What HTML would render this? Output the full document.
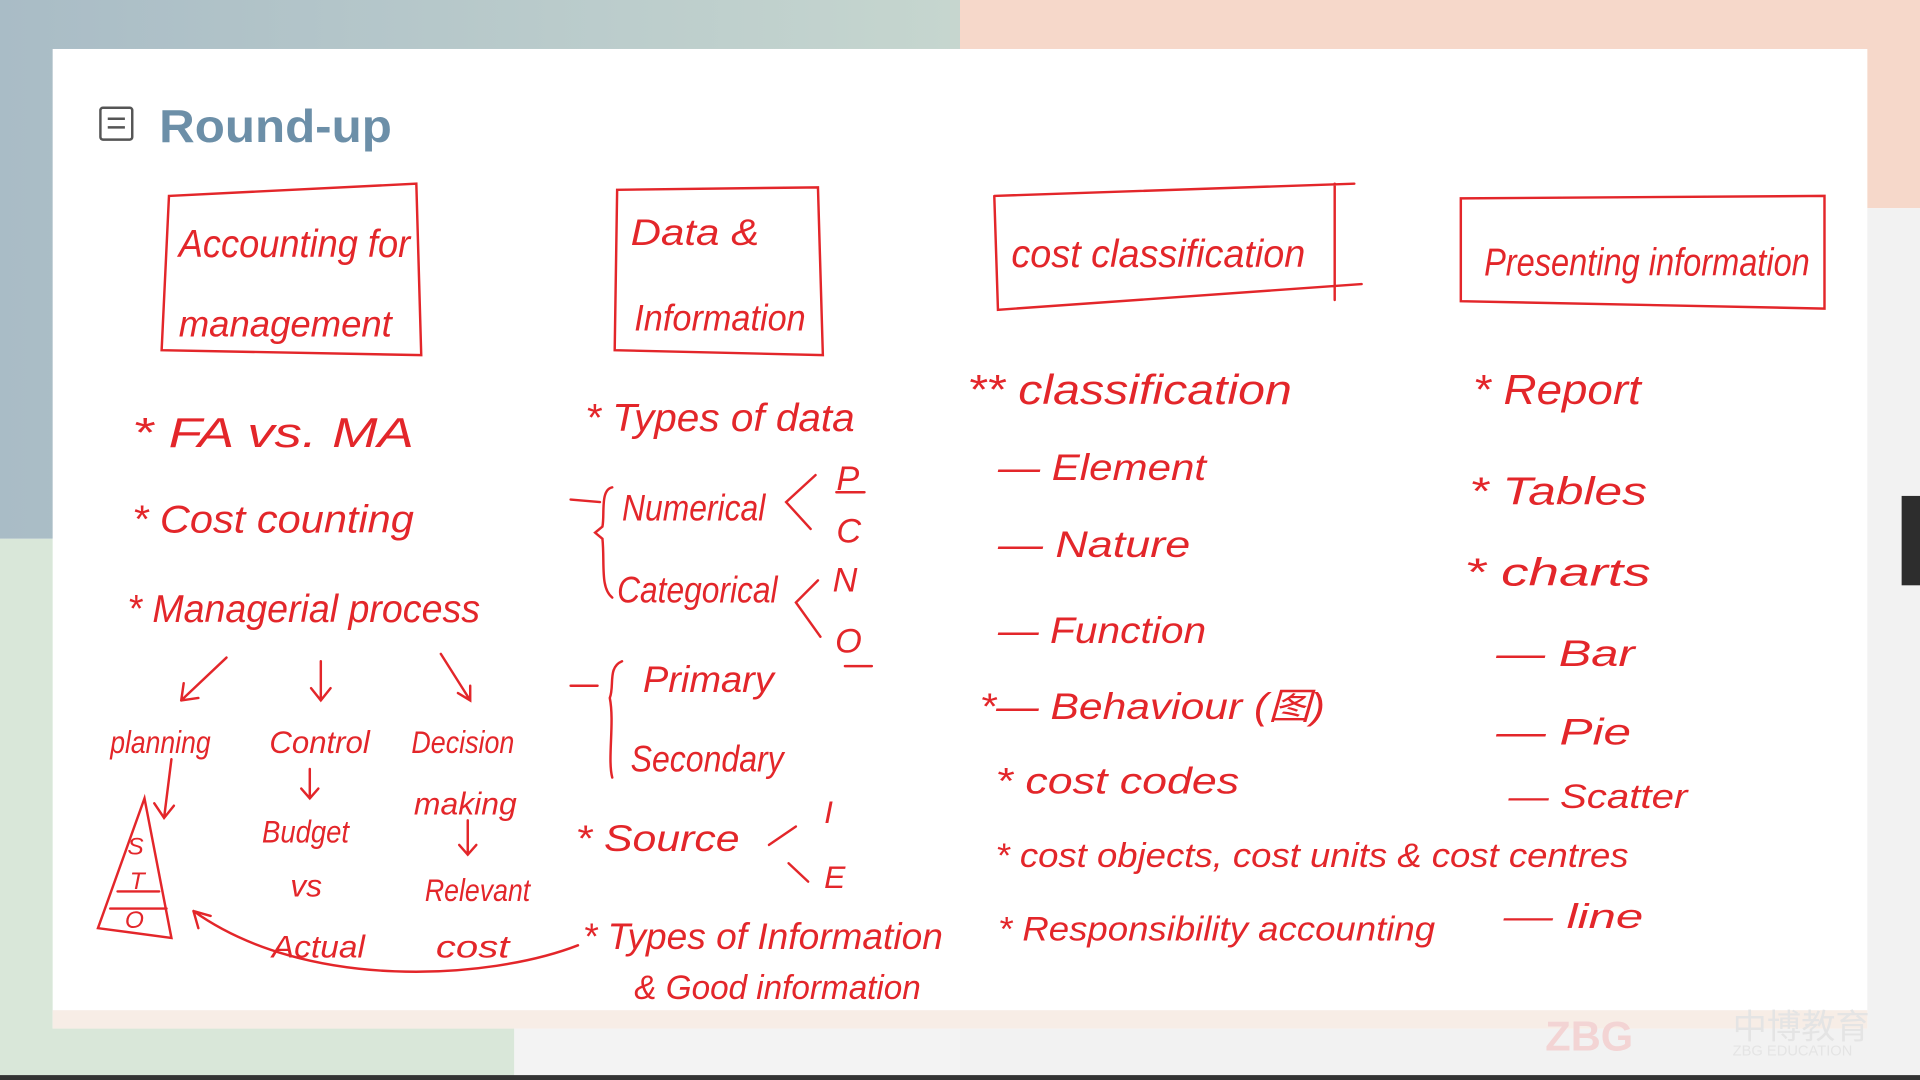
<!DOCTYPE html>
<html><head><meta charset="utf-8"><style>
html,body{margin:0;padding:0;width:1920px;height:1080px;overflow:hidden;background:#fff}
svg{display:block}
.h text{font-family:"Liberation Sans","Noto Sans CJK SC",sans-serif;font-style:italic;fill:#e3262a;font-weight:normal}
.l{stroke:#e3262a;stroke-width:2;fill:none;stroke-linecap:round}
</style></head><body>
<svg width="1920" height="1080" viewBox="0 0 1568 882" preserveAspectRatio="none" xmlns="http://www.w3.org/2000/svg">
<defs>
<linearGradient id="g1" x1="0" y1="0" x2="1" y2="0"><stop offset="0" stop-color="#a9bcc6"/><stop offset="1" stop-color="#c6d6cf"/></linearGradient>
</defs>
<rect x="0" y="0" width="784" height="440" fill="url(#g1)"/>
<rect x="784" y="0" width="784" height="170" fill="#f6d8ca"/>
<rect x="784" y="170" width="784" height="712" fill="#f2f2f2"/>
<rect x="0" y="440" width="420" height="442" fill="#d9e7d9"/>
<rect x="420" y="440" width="364" height="442" fill="#f3f3f3"/>
<rect x="43" y="40" width="1482" height="800" fill="#fff"/>
<rect x="43" y="825" width="1482" height="15" fill="#f7ede6"/>
<rect x="1553" y="405" width="15" height="73" fill="#2d2d2d"/>
<rect x="0" y="878" width="1568" height="4" fill="#333"/>
<rect x="82" y="88" width="26" height="26" fill="none" stroke="#555" stroke-width="2" rx="2"/>
<line x1="88" y1="97" x2="102" y2="97" stroke="#555" stroke-width="2"/>
<line x1="88" y1="104" x2="102" y2="104" stroke="#555" stroke-width="2"/>
<text x="130" y="116" font-family="Liberation Sans,sans-serif" font-weight="bold" font-size="38" fill="#6c8fa8" textLength="190" lengthAdjust="spacingAndGlyphs">Round-up</text>
<path class="l" d="M138 160 L340 150 L344 290 L132 286 Z"/>
<path class="l" d="M504 155 L668 153 L672 290 L502 286 Z"/>
<path class="l" d="M812 160 L1106 150 M812 160 L815 253 L1112 232 M1090 150 L1090 245"/>
<path class="l" d="M1193 162 L1490 160 L1490 252 L1193 246 Z"/>
<g class="h">
<text x="146" y="210" font-size="32" textLength="189" lengthAdjust="spacingAndGlyphs">Accounting for</text>
<text x="146" y="275" font-size="30" textLength="174" lengthAdjust="spacingAndGlyphs">management</text>
<text x="515" y="200" font-size="30" textLength="105" lengthAdjust="spacingAndGlyphs">Data &amp;</text>
<text x="518" y="270" font-size="30" textLength="140" lengthAdjust="spacingAndGlyphs">Information</text>
<text x="826" y="218" font-size="32" textLength="240" lengthAdjust="spacingAndGlyphs">cost classification</text>
<text x="1212" y="225" font-size="32" textLength="266" lengthAdjust="spacingAndGlyphs">Presenting information</text>

<text x="108" y="365" font-size="34" textLength="230" lengthAdjust="spacingAndGlyphs">*  FA  vs. MA</text>
<text x="108" y="435" font-size="32" textLength="230" lengthAdjust="spacingAndGlyphs">*  Cost counting</text>
<text x="104" y="508" font-size="32" textLength="288" lengthAdjust="spacingAndGlyphs">*  Managerial process</text>
<text x="90" y="615" font-size="26" textLength="82" lengthAdjust="spacingAndGlyphs">planning</text>
<text x="220" y="615" font-size="26" textLength="82" lengthAdjust="spacingAndGlyphs">Control</text>
<text x="336" y="615" font-size="26" textLength="84" lengthAdjust="spacingAndGlyphs">Decision</text>
<text x="338" y="665" font-size="26" textLength="84" lengthAdjust="spacingAndGlyphs">making</text>
<text x="214" y="688" font-size="26" textLength="71" lengthAdjust="spacingAndGlyphs">Budget</text>
<text x="237" y="732" font-size="26">vs</text>
<text x="222" y="782" font-size="26" textLength="76" lengthAdjust="spacingAndGlyphs">Actual</text>
<text x="347" y="736" font-size="26" textLength="86" lengthAdjust="spacingAndGlyphs">Relevant</text>
<text x="356" y="782" font-size="26" textLength="60" lengthAdjust="spacingAndGlyphs">cost</text>
<text x="104" y="698" font-size="20">S</text>
<text x="106" y="726" font-size="20">T</text>
<text x="102" y="758" font-size="20">O</text>

<text x="478" y="352" font-size="32" textLength="220" lengthAdjust="spacingAndGlyphs">* Types of data</text>
<text x="508" y="425" font-size="30" textLength="117" lengthAdjust="spacingAndGlyphs">Numerical</text>
<text x="504" y="492" font-size="30" textLength="131" lengthAdjust="spacingAndGlyphs">Categorical</text>
<text x="683" y="400" font-size="28">P</text>
<text x="683" y="443" font-size="28">C</text>
<text x="680" y="483" font-size="28">N</text>
<text x="682" y="533" font-size="28">O</text>
<text x="525" y="565" font-size="30" textLength="107" lengthAdjust="spacingAndGlyphs">Primary</text>
<text x="515" y="630" font-size="30" textLength="125" lengthAdjust="spacingAndGlyphs">Secondary</text>
<text x="470" y="695" font-size="30" textLength="134" lengthAdjust="spacingAndGlyphs">*   Source</text>
<text x="673" y="672" font-size="26">I</text>
<text x="673" y="725" font-size="26">E</text>
<text x="476" y="775" font-size="30" textLength="294" lengthAdjust="spacingAndGlyphs">*  Types of Information</text>
<text x="518" y="816" font-size="28" textLength="234" lengthAdjust="spacingAndGlyphs">&amp;   Good information</text>

<text x="790" y="330" font-size="34" textLength="265" lengthAdjust="spacingAndGlyphs">** classification</text>
<text x="815" y="392" font-size="30" textLength="170" lengthAdjust="spacingAndGlyphs">—  Element</text>
<text x="815" y="455" font-size="30" textLength="157" lengthAdjust="spacingAndGlyphs">—  Nature</text>
<text x="815" y="525" font-size="30" textLength="170" lengthAdjust="spacingAndGlyphs">—  Function</text>
<text x="800" y="587" font-size="30" textLength="282" lengthAdjust="spacingAndGlyphs">*—  Behaviour (图)</text>
<text x="813" y="648" font-size="30" textLength="199" lengthAdjust="spacingAndGlyphs">*  cost codes</text>
<text x="813" y="708" font-size="28" textLength="517" lengthAdjust="spacingAndGlyphs">* cost objects, cost units &amp; cost centres</text>
<text x="815" y="768" font-size="28" textLength="357" lengthAdjust="spacingAndGlyphs">*  Responsibility accounting</text>

<text x="1203" y="330" font-size="34" textLength="137" lengthAdjust="spacingAndGlyphs">*  Report</text>
<text x="1200" y="412" font-size="32" textLength="145" lengthAdjust="spacingAndGlyphs">*    Tables</text>
<text x="1196" y="478" font-size="32" textLength="152" lengthAdjust="spacingAndGlyphs">*    charts</text>
<text x="1222" y="544" font-size="30" textLength="113" lengthAdjust="spacingAndGlyphs">—    Bar</text>
<text x="1222" y="608" font-size="30" textLength="110" lengthAdjust="spacingAndGlyphs">—    Pie</text>
<text x="1232" y="660" font-size="28" textLength="146" lengthAdjust="spacingAndGlyphs">—   Scatter</text>
<text x="1228" y="758" font-size="28" textLength="114" lengthAdjust="spacingAndGlyphs">—    line</text>
</g>
<path class="l" d="M185 537 L148 572 M148 572 L150 558 M148 572 L162 570"/>
<path class="l" d="M262 540 L262 572 M254 562 L262 572 L270 562"/>
<path class="l" d="M360 534 L384 572 M374 566 L384 572 L384 560"/>
<path class="l" d="M253 628 L253 652 M246 644 L253 652 L260 644"/>
<path class="l" d="M382 670 L382 698 M375 690 L382 698 L389 690"/>
<path class="l" d="M140 620 L134 668 M126 656 L134 668 L142 658"/>
<path class="l" d="M80 758 L118 652 L140 766 Z M96 728 L130 728 M90 742 L136 742"/>
<path class="l" d="M472 772 C400 800 250 810 158 744 M158 744 L172 748 M158 744 L162 758"/>
<path class="l" d="M500 398 C490 400 494 420 492 430 L486 435 L492 440 C494 460 490 480 500 488 M466 408 L490 410"/>
<path class="l" d="M508 540 C496 545 502 560 498 570 C502 590 496 620 500 635 M466 560 L488 560"/>
<path class="l" d="M666 388 L642 410 L662 432 M668 474 L650 492 L670 520"/>
<path class="l" d="M683 402 L706 402 M690 544 L712 544"/>
<path class="l" d="M650 675 L628 690 M644 705 L660 720"/>
<text x="1262" y="858" font-family="Liberation Sans,sans-serif" font-weight="bold" font-size="34" fill="#f3d4d4">ZBG</text>
<text x="1415" y="848" font-family="Liberation Sans,'Noto Sans CJK SC',sans-serif" font-size="28" fill="#e4e4e4">中博教育</text>
<text x="1415" y="862" font-family="Liberation Sans,sans-serif" font-size="12" fill="#e4e4e4">ZBG EDUCATION</text>
</svg>
</body></html>
